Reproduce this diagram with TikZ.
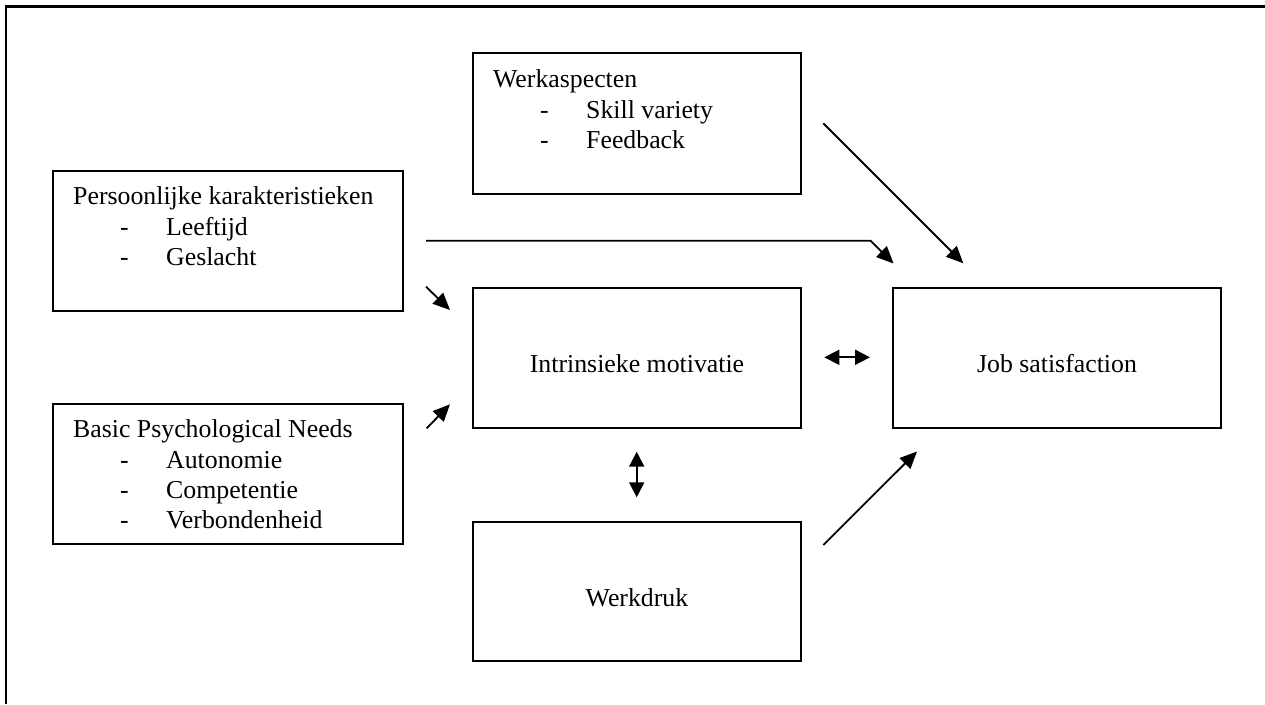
\documentclass[tikz,border=0pt]{standalone}
\usepackage{fontspec}
\setmainfont{Liberation Serif}
\usetikzlibrary{arrows.meta}
\begin{document}
\begin{tikzpicture}[x=1pt,y=-1pt,
  box/.style={draw,line width=1.7pt,inner sep=0pt,outer sep=0pt},
  txt/.style={anchor=base west,inner sep=0pt,font=\fontsize{25.8}{30}\selectfont},
  ctxt/.style={anchor=base,inner sep=0pt,font=\fontsize{25.8}{30}\selectfont},
  arr/.style={line width=1.8pt,-{Triangle[length=17pt,width=15pt]}},
  darr/.style={line width=1.8pt,{Triangle[length=15pt,width=15pt]}-{Triangle[length=15pt,width=15pt]}}]
\useasboundingbox (0,0) rectangle (1265,704);
% frame
\draw[line width=2.5pt] (6.2,704) -- (6.2,6.5) -- (1265,6.5);
% boxes
\node[box,minimum width=328pt,minimum height=141pt] (W) at (637,123.5) {};
\node[box,minimum width=350pt,minimum height=140pt] (P) at (228,241) {};
\node[box,minimum width=350pt,minimum height=140pt] (B) at (228,474) {};
\node[box,minimum width=328pt,minimum height=140pt] (I) at (637,358) {};
\node[box,minimum width=328pt,minimum height=140pt] (J) at (1057,358) {};
\node[box,minimum width=328pt,minimum height=139pt] (D) at (637,591.5) {};
% texts
\node[txt] (Wt) at (493,87) {Werkaspecten};
\node[txt] (Wd1) at (540,118) {-};
\node[txt] (Wi1) at (586,118) {Skill variety};
\node[txt] (Wd2) at (540,148) {-};
\node[txt] (Wi2) at (586,148) {Feedback};
\node[txt] (Pt) at (73,204) {Persoonlijke karakteristieken};
\node[txt] (Pd1) at (120,235) {-};
\node[txt] (Pi1) at (166,235) {Leeftijd};
\node[txt] (Pd2) at (120,265) {-};
\node[txt] (Pi2) at (166,265) {Geslacht};
\node[txt] (Bt) at (73,437.5) {Basic Psychological Needs};
\node[txt] (Bd1) at (120,468) {-};
\node[txt] (Bi1) at (166,468) {Autonomie};
\node[txt] (Bd2) at (120,498) {-};
\node[txt] (Bi2) at (166,498) {Competentie};
\node[txt] (Bd3) at (120,528) {-};
\node[txt] (Bi3) at (166,528) {Verbondenheid};
\node[ctxt] (It) at (637,372) {Intrinsieke motivatie};
\node[ctxt] (Jt) at (1057,372) {Job satisfaction};
\node[ctxt] (Dt) at (637,606) {Werkdruk};
% connector ends
\coordinate (pj1) at (426,240.7);
\coordinate (pj2) at (870.5,240.7);
\coordinate (pj3) at (893.5,263.5);
\coordinate (wj1) at (823.3,123.3);
\coordinate (wj2) at (963.3,263.3);
\coordinate (pi1) at (426,286.7);
\coordinate (pi2) at (450,310);
\coordinate (bi1) at (426.7,428.3);
\coordinate (bi2) at (450,404.3);
\coordinate (ij1) at (824.3,357.3);
\coordinate (ij2) at (870,357.3);
\coordinate (id1) at (636.7,451.7);
\coordinate (id2) at (636.7,497.3);
\coordinate (dj1) at (823.3,545);
\coordinate (dj2) at (917,451.5);
% arrows
\draw[arr] (pj1) -- (pj2) -- (pj3);
\draw[arr] (wj1) -- (wj2);
\draw[arr] (pi1) -- (pi2);
\draw[arr] (bi1) -- (bi2);
\draw[darr] (ij1) -- (ij2);
\draw[darr] (id1) -- (id2);
\draw[arr] (dj1) -- (dj2);
\end{tikzpicture}
\end{document}
